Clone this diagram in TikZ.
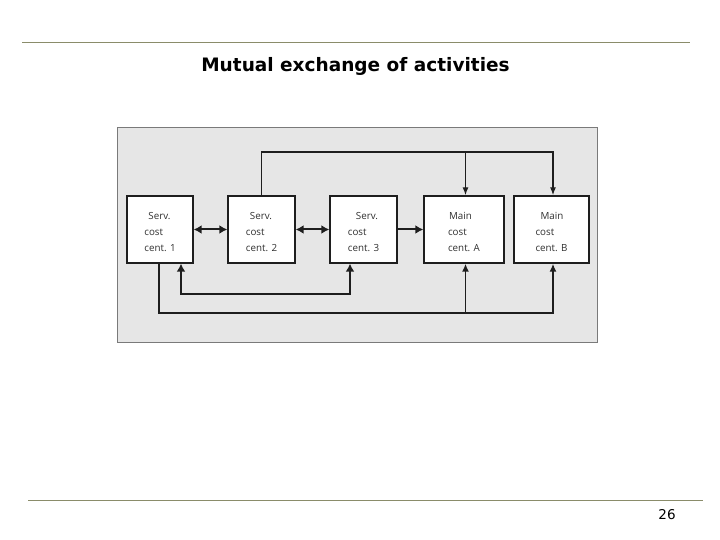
\documentclass[tikz,border=0pt]{standalone}
\usepackage{fontspec}
\setmainfont{DejaVu Sans}
\newfontfamily\boxfont{Open Sans}
\usetikzlibrary{arrows.meta}
\definecolor{rulecol}{HTML}{8A8C6A}
\definecolor{panelfill}{HTML}{E6E6E6}
\definecolor{panelline}{HTML}{7A7A7A}
\definecolor{linecol}{HTML}{1E1E1E}
\definecolor{txtcol}{HTML}{303030}
\begin{document}
\begin{tikzpicture}[x=1pt,y=-1pt,
  rule/.style={draw=rulecol, line width=1pt},
  cbox/.style={draw=linecol, line width=1.4pt, fill=white, minimum height=67pt, inner sep=0pt},
  btext/.style={inner sep=0pt, align=left, text=txtcol, font=\boxfont\fontsize{9.8}{15.8}\selectfont},
  bigarrow/.style={draw=linecol, line width=2pt, {Latex[length=8pt,width=9pt]}-{Latex[length=8pt,width=9pt]}},
  bigonearrow/.style={draw=linecol, line width=2pt, -{Latex[length=8pt,width=9pt]}},
  thinarrow/.style={draw=linecol, line width=1.2pt, -{Latex[length=8pt,width=6pt]}},
  midarrow/.style={draw=linecol, line width=1.5pt, -{Latex[length=8pt,width=7pt]}}
]
\useasboundingbox (0,0) rectangle (720,540);
\draw[rule] (22,43) -- (690,43);
\draw[rule] (28,500) -- (703,500);
\node (title) at (355.5,66) {\bfseries\fontsize{18.5}{21}\selectfont Mutual exchange of activities};
\node (page) at (667,515) {\fontsize{13.5}{15}\selectfont 26};

\node[draw=panelline, line width=1.5pt, fill=panelfill, minimum width=480pt, minimum height=215pt, inner sep=0pt] (panel) at (357.5,235) {};

\node[cbox, minimum width=66pt] (b1) at (160,229.5) {};
\node[cbox, minimum width=67pt] (b2) at (261.5,229.5) {};
\node[cbox, minimum width=67pt] (b3) at (363.5,229.5) {};
\node[cbox, minimum width=80pt] (bA) at (464,229.5) {};
\node[cbox, minimum width=75pt] (bB) at (551.5,229.5) {};

\node[btext] (t1) at ([yshift=-2.5pt]b1.center) {\hspace{4pt}Serv.\\cost\\cent. 1};
\node[btext] (t2) at ([yshift=-2.5pt]b2.center) {\hspace{4pt}Serv.\\cost\\cent. 2};
\node[btext] (t3) at ([yshift=-2.5pt]b3.center) {\hspace{8pt}Serv.\\cost\\cent. 3};
\node[btext] (tA) at ([yshift=-2.5pt]bA.center) {\hspace{1pt}Main\\cost\\cent. A};
\node[btext] (tB) at ([yshift=-2.5pt]bB.center) {\hspace{5pt}Main\\cost\\cent. B};

\coordinate (top) at (0,152);
\coordinate (l1) at (0,294);
\coordinate (l2) at (0,313);

\draw[bigarrow] (b1.east) -- (b2.west);
\draw[bigarrow] (b2.east) -- (b3.west);
\draw[bigonearrow] (b3.east) -- (bA.west);

\draw[thinarrow] (b2.north) |- ([xshift=1.5pt]bB.north |- top) -- ([xshift=1.5pt]bB.north);
\draw[thinarrow] ([xshift=1.5pt]bA.north |- top) -- ([xshift=1.5pt]bA.north);

\draw[bigarrow] ([xshift=21pt]b1.south) -- ([xshift=21pt]b1.south |- l1) -| ([xshift=-13.5pt]b3.south);

\draw[midarrow] ([xshift=-1pt]b1.south) |- ([xshift=1.5pt]bB.south |- l2) -- ([xshift=1.5pt]bB.south);
\draw[midarrow] ([xshift=1.5pt]bA.south |- l2) -- ([xshift=1.5pt]bA.south);
\end{tikzpicture}
\end{document}
